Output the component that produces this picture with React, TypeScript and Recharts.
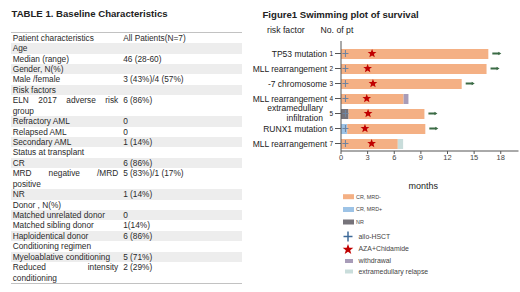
import React from 'react';
import { ComposedChart, Bar, Scatter, XAxis, YAxis } from 'recharts';

// ---------- Table data ----------
const tableHeader = ['Patient characteristics', 'All Patients(N=7)'];
const tableLabels = [
  'Age', 'Median (range)', 'Gender, N(%)', 'Male /female', 'Risk factors',
  'ELN 2017 adverse risk group', 'Refractory AML', 'Relapsed AML', 'Secondary AML',
  'Status at transplant', 'CR', 'MRD negative /MRD positive', 'NR', 'Donor , N(%)',
  'Matched unrelated donor', 'Matched sibling donor', 'Haploidentical donor',
  'Conditioning regimen', 'Myeloablative conditioning', 'Reduced intensity conditioning',
];
const tableValues = [
  '', '46 (28-60)', '', '3 (43%)/4 (57%)', '',
  '6 (86%)', '0', '0', '1 (14%)',
  '', '6 (86%)', '5 (83%)/1 (17%)', '1 (14%)', '',
  '0', '1(14%)', '6 (86%)',
  '', '5 (71%)', '2 (29%)',
];

// ---------- Chart data ----------
const patients = ['1', '2', '3', '4', '5', '6', '7'];
const riskFactors = [
  'TP53 mutation', 'MLL rearrangement', '-7 chromosome', 'MLL rearrangement',
  'extramedullary infiltration', 'RUNX1 mutation', 'MLL rearrangement',
];
const nrMonths = [0, 0, 0, 0, 0.85, 0, 0];
const mrdPosMonths = [0, 0, 0, 0, 0, 0.7, 0];
const mrdNegMonths = [16.6, 16.4, 13.6, 7.05, 8.55, 8.8, 6.4];
const withdrawalMonths = [0, 0, 0, 0.55, 0, 0, 0];
const relapseMonths = [0, 0, 0, 0, 0, 0, 0.6];
const hsctMonth = [0.5, 0.5, 0.5, 0.5, 0.5, 0.5, 0.5];
const azaMonth = [3.5, 3.0, 3.6, 2.9, 3.05, 2.7, 3.45];
const ongoing = [true, true, true, false, true, true, false];
const xTicks = [0, 3, 6, 9, 12, 15, 18];

const rows = patients.map((id, i) => {
  const total = nrMonths[i] + mrdPosMonths[i] + mrdNegMonths[i] + withdrawalMonths[i] + relapseMonths[i];
  return {
    id,
    risk: riskFactors[i],
    nr: nrMonths[i],
    mrdPos: mrdPosMonths[i],
    mrdNeg: mrdNegMonths[i],
    withdrawal: withdrawalMonths[i],
    relapse: relapseMonths[i],
    hsct: hsctMonth[i],
    aza: azaMonth[i],
    arrow: ongoing[i] ? total : null,
  };
});

const C_MRDNEG = '#F4B084';
const C_MRDPOS = '#9DC3E6';
const C_NR = '#76737A';
const C_WITH = '#A89CB8';
const C_REL = '#C9DDDB';
const C_STAR = '#C00000';
const C_CROSS = '#6E84A0';
const C_CROSS_LEG = '#3E6A98';
const C_ARROW = '#3B6B45';

function starPoints(cx: number, cy: number, R: number, r: number) {
  const pts: string[] = [];
  for (let k = 0; k < 10; k++) {
    const rad = k % 2 === 0 ? R : r;
    const a = -Math.PI / 2 + (k * Math.PI) / 5;
    pts.push(`${(cx + rad * Math.cos(a)).toFixed(2)},${(cy + rad * Math.sin(a)).toFixed(2)}`);
  }
  return pts.join(' ');
}

const StarShape = (props: any) => {
  const { cx, cy } = props;
  if (cx == null || cy == null || isNaN(cx)) return <g />;
  return <polygon points={starPoints(cx, cy, 4.6, 2.0)} fill={C_STAR} />;
};

const CrossShape = (props: any) => {
  const { cx, cy } = props;
  if (cx == null || cy == null || isNaN(cx)) return <g />;
  return (
    <g stroke={C_CROSS} strokeWidth={1}>
      <line x1={cx - 3} y1={cy} x2={cx + 3} y2={cy} />
      <line x1={cx} y1={cy - 3.5} x2={cx} y2={cy + 3.5} />
    </g>
  );
};

const ArrowShape = (props: any) => {
  const { cx, cy, payload } = props;
  if (!payload || payload.arrow == null || cx == null || isNaN(cx)) return <g />;
  const x0 = cx + 4;
  return (
    <g>
      <line x1={x0} y1={cy} x2={x0 + 7} y2={cy} stroke={C_ARROW} strokeWidth={2} />
      <polygon points={`${x0 + 6},${cy - 1.8} ${x0 + 9},${cy} ${x0 + 6},${cy + 1.8}`} fill={C_ARROW} />
    </g>
  );
};

const RiskTick = (props: any) => {
  const { x, y, payload, index } = props;
  const i = payload && typeof payload.index === 'number' ? payload.index : index;
  const label = riskFactors[i] ?? '';
  const num = patients[i] ?? '';
  const textProps = { fontSize: 8.5, fill: '#222', textAnchor: 'end' as const, fontFamily: font };
  return (
    <g>
      {i === 4 ? (
        <>
          <text x={x - 12} y={y - 2.5} {...textProps}>extramedullary</text>
          <text x={x - 12} y={y + 7.5} {...textProps}>infiltration</text>
        </>
      ) : (
        <text x={x - 8} y={y + 3.1} {...textProps}>{label}</text>
      )}
      <text x={x - 2} y={y + 2.5} fontSize={6.5} fill="#222" textAnchor="end" fontFamily={font}>{num}</text>
    </g>
  );
};

const legendItems = [
  { type: 'rect', color: C_MRDNEG, label: 'CR, MRD-', y: 196.7, small: true },
  { type: 'rect', color: C_MRDPOS, label: 'CR, MRD+', y: 209.5, small: true },
  { type: 'rect', color: C_NR, label: 'NR', y: 222, small: true },
  { type: 'cross', color: C_CROSS_LEG, label: 'allo-HSCT', y: 236.5, small: false },
  { type: 'star', color: C_STAR, label: 'AZA+Chidamide', y: 249, small: false },
  { type: 'rect2', color: C_WITH, label: 'withdrawal', y: 261, small: false },
  { type: 'rect2', color: C_REL, label: 'extramedullary relapse', y: 271.5, small: false },
];

const font = '"Liberation Sans", Arial, Helvetica, sans-serif';
const LINE = 10.42;

const cellBase: React.CSSProperties = {
  fontSize: '8.3px',
  lineHeight: `${LINE}px`,
  minHeight: `${LINE}px`,
};

export default function App() {
  return (
    <div style={{ position: 'absolute', left: 0, top: 0, width: 520, height: 292, background: '#fff', overflow: 'hidden', fontFamily: font, color: '#2a2a2a' }}>
      {/* Table title */}
      <div style={{ position: 'absolute', left: 11.5, top: 8, fontSize: 9.6, fontWeight: 'bold', lineHeight: '12px', color: '#222', whiteSpace: 'nowrap' }}>
        TABLE 1. Baseline Characteristics
      </div>
      {/* Table */}
      <div style={{ position: 'absolute', left: 11, top: 31.8, width: 231, borderTop: '1px solid #c2c2c2', borderBottom: '1px solid #c2c2c2' }}>
        <div style={{ display: 'flex', alignItems: 'flex-start' }}>
          <div style={{ ...cellBase, width: 105.5, paddingLeft: 1.7, flexShrink: 0 }}>{tableHeader[0]}</div>
          <div style={{ ...cellBase, marginLeft: 5, whiteSpace: 'nowrap' }}>{tableHeader[1]}</div>
        </div>
        {tableLabels.map((lab, i) => (
          <div key={i} style={{ display: 'flex', alignItems: 'flex-start', background: i % 2 === 0 ? '#ededed' : 'transparent' }}>
            <div style={{ ...cellBase, width: 105.5, paddingLeft: 1.7, textAlign: 'justify', flexShrink: 0 }}>{lab}</div>
            <div style={{ ...cellBase, marginLeft: 5, whiteSpace: 'nowrap' }}>{tableValues[i]}</div>
          </div>
        ))}
      </div>

      {/* Figure title and headers */}
      <div style={{ position: 'absolute', left: 262.5, top: 9, fontSize: 9.6, fontWeight: 'bold', lineHeight: '12px', color: '#222', whiteSpace: 'nowrap' }}>
        Figure1 Swimming plot of survival
      </div>
      <div style={{ position: 'absolute', left: 267, top: 25, fontSize: 8.7, lineHeight: '10px', color: '#222', whiteSpace: 'nowrap' }}>risk factor</div>
      <div style={{ position: 'absolute', left: 320.5, top: 25, fontSize: 8.7, lineHeight: '10px', color: '#222', whiteSpace: 'nowrap' }}>No. of pt</div>

      {/* Chart */}
      <div style={{ position: 'absolute', left: 244, top: 0 }}>
        <ComposedChart
          width={276}
          height={292}
          layout="vertical"
          data={rows}
          margin={{ top: 41, right: 1.5, bottom: 111, left: 0 }}
        >
          <XAxis
            type="number"
            domain={[0, 20]}
            ticks={xTicks}
            allowDataOverflow
            height={30}
            tickSize={3}
            tickMargin={1}
            axisLine={{ stroke: '#555' }}
            tickLine={{ stroke: '#555' }}
            tick={{ fontSize: 7.5, fill: '#444', fontFamily: font }}
            label={{
              content: (p: any) => {
                const vb = p.viewBox || { x: 97, y: 151, width: 177 };
                return (
                  <text x={vb.x + vb.width / 2 - 6.5} y={vb.y + 38} fontSize={9} fill="#222" textAnchor="middle" fontFamily={font}>
                    months
                  </text>
                );
              },
            }}
          />
          <YAxis
            type="category"
            dataKey="id"
            width={97}
            tickSize={6}
            tickMargin={0}
            interval={0}
            padding={{ top: 5, bottom: 0 }}
            axisLine={{ stroke: '#555' }}
            tickLine={{ stroke: '#555' }}
            tick={<RiskTick />}
          />
          <Bar dataKey="nr" stackId="s" fill={C_NR} barSize={10} isAnimationActive={false} />
          <Bar dataKey="mrdPos" stackId="s" fill={C_MRDPOS} barSize={10} isAnimationActive={false} />
          <Bar dataKey="mrdNeg" stackId="s" fill={C_MRDNEG} barSize={10} isAnimationActive={false} />
          <Bar dataKey="withdrawal" stackId="s" fill={C_WITH} barSize={10} isAnimationActive={false} />
          <Bar dataKey="relapse" stackId="s" fill={C_REL} barSize={10} isAnimationActive={false} />
          <Scatter dataKey="hsct" shape={CrossShape} isAnimationActive={false} />
          <Scatter dataKey="aza" shape={StarShape} isAnimationActive={false} />
          <Scatter dataKey="arrow" shape={ArrowShape} isAnimationActive={false} />
        </ComposedChart>
      </div>

      {/* Legend */}
      <svg style={{ position: 'absolute', left: 0, top: 0 }} width={520} height={292}>
        {legendItems.map((it, i) => {
          let icon: any = null;
          if (it.type === 'rect') icon = <rect x={343} y={it.y - 2.5} width={11} height={5} fill={it.color} />;
          if (it.type === 'rect2') icon = <rect x={345} y={it.y - 2} width={8} height={4} fill={it.color} />;
          if (it.type === 'cross')
            icon = (
              <g stroke={it.color} strokeWidth={1.5}>
                <line x1={343.5} y1={it.y} x2={352.5} y2={it.y} />
                <line x1={348} y1={it.y - 5} x2={348} y2={it.y + 5} />
              </g>
            );
          if (it.type === 'star') icon = <polygon points={starPoints(348, it.y + 0.5, 5.6, 2.3)} fill={it.color} />;
          return (
            <g key={i}>
              {icon}
              <text
                x={it.small ? 356 : 358.5}
                y={it.y + (it.small ? 1.9 : 2.4)}
                fontSize={it.small ? 5.4 : 6.9}
                fill="#444"
                fontFamily={font}
              >
                {it.label}
              </text>
            </g>
          );
        })}
      </svg>
    </div>
  );
}
